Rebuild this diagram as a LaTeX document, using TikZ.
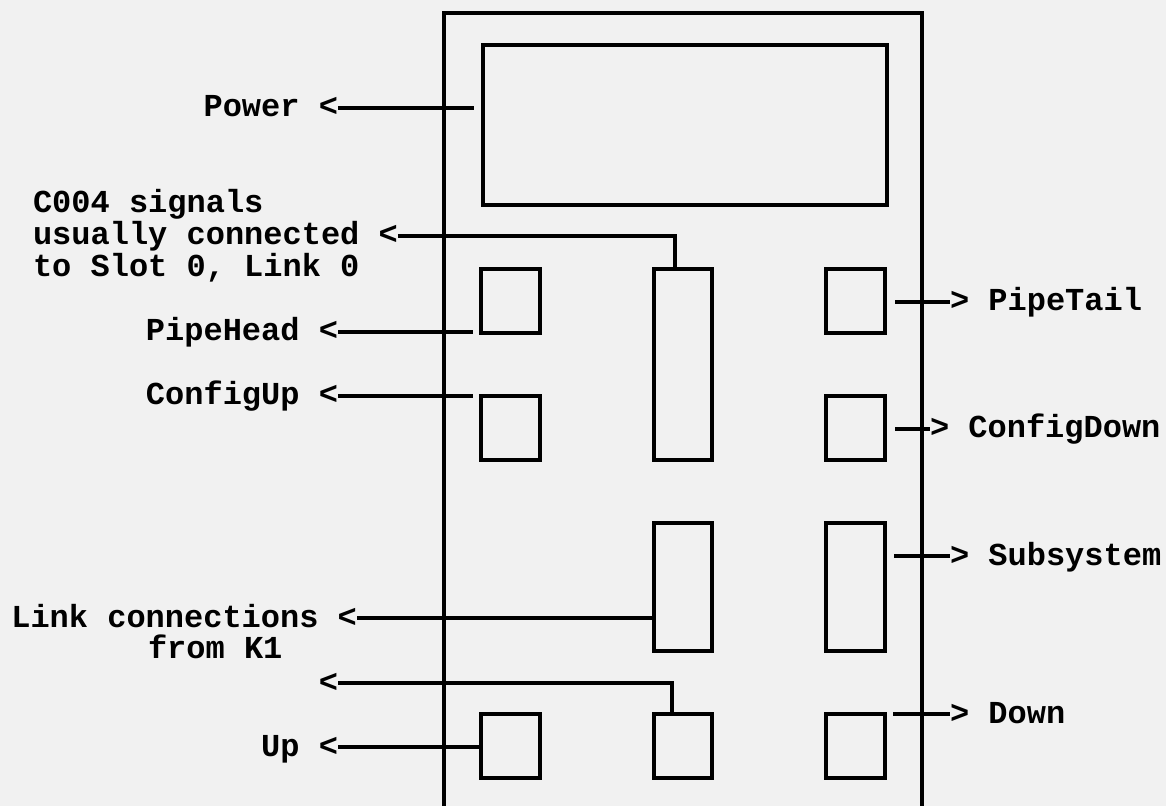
\documentclass[tikz,border=0pt]{standalone}
\usepackage{fontspec}
\newfontfamily\courfont{Liberation Mono}
\definecolor{paper}{RGB}{241,241,241}
\begin{document}
\begin{tikzpicture}[x=0.5pt,y=-0.5pt,
  wire/.style={line width=1.6pt},
  boxnode/.style={draw,line width=1.6pt,inner sep=0pt,outer sep=0pt},
  lbl/.style={inner sep=0pt,outer sep=0pt,font=\courfont\bfseries\fontsize{16}{16}\selectfont,text height=9pt,text depth=0pt}]
\useasboundingbox (0,0) rectangle (1166,806);
\fill[paper] (0,0) rectangle (1166,806);

% outer frame (continues past the bottom edge)
\coordinate (fbl) at (444,840);
\coordinate (ftl) at (444,13);
\coordinate (ftr) at (922,13);
\coordinate (fbr) at (922,840);
\draw[wire] (fbl) -- (ftl) -- (ftr) -- (fbr);

% boxes
\node[boxnode,minimum width=202pt,minimum height=80pt] (powbox) at (685,125) {};
\node[boxnode,minimum width=29.5pt,minimum height=32pt] (phead) at (510.5,301) {};
\node[boxnode,minimum width=29.5pt,minimum height=32pt] (cup) at (510.5,428) {};
\node[boxnode,minimum width=29.5pt,minimum height=32pt] (upbox) at (510.5,746) {};
\node[boxnode,minimum width=29pt,minimum height=95.5pt] (mid1) at (683,364.5) {};
\node[boxnode,minimum width=29pt,minimum height=64pt] (mid2) at (683,587) {};
\node[boxnode,minimum width=29pt,minimum height=32pt] (mid3) at (683,746) {};
\node[boxnode,minimum width=29.5pt,minimum height=32pt] (ptail) at (855.5,301) {};
\node[boxnode,minimum width=29.5pt,minimum height=32pt] (cdown) at (855.5,428) {};
\node[boxnode,minimum width=29.5pt,minimum height=64pt] (subs) at (855.5,587) {};
\node[boxnode,minimum width=29.5pt,minimum height=32pt] (down) at (855.5,746) {};

% left labels
\node[lbl,anchor=east] (lpow) at (338,108) {Power <};
\node[lbl,anchor=west] (c1) at (33,204) {C004 signals};
\node[lbl,anchor=west] (c2) at (33,236) {usually connected <};
\node[lbl,anchor=west] (c3) at (33,268) {to Slot 0, Link 0};
\node[lbl,anchor=east] (lph) at (338,332) {PipeHead <};
\node[lbl,anchor=east] (lcu) at (338,396) {ConfigUp <};
\node[lbl,anchor=east] (llk) at (357,618) {Link connections <};
\node[lbl,anchor=west] (lk2) at (148,649) {from K1};
\node[lbl,anchor=east] (lsl) at (338,683) {<};
\node[lbl,anchor=east] (lup) at (338,747) {Up <};

% right labels
\node[lbl,anchor=west] (rpt) at (950,302) {> PipeTail};
\node[lbl,anchor=west] (rcd) at (930,429) {> ConfigDown};
\node[lbl,anchor=west] (rss) at (950,556) {> Subsystem};
\node[lbl,anchor=west] (rdn) at (950,714) {> Down};

% free ends
\coordinate (powend) at (474,108);
\coordinate (phend) at (473,332);
\coordinate (cuend) at (473,396);
\coordinate (ptst) at (895,302);
\coordinate (cdst) at (895,429);
\coordinate (ssst) at (894,556);
\coordinate (dnst) at (893,714);

% connectors
\draw[wire] (lpow.east) -- (powend);
\draw[wire] (c2.east) -| ([xshift=-4pt]mid1.north);
\draw[wire] (lph.east) -- (phend);
\draw[wire] (lcu.east) -- (cuend);
\draw[wire] (llk.east) -- (llk.east -| mid2.west);
\draw[wire] (lsl.east) -| ([xshift=-5.5pt]mid3.north);
\draw[wire] (lup.east) -- (lup.east -| upbox.west);
\draw[wire] (ptst) -- (rpt.west);
\draw[wire] (cdst) -- (rcd.west);
\draw[wire] (ssst) -- (rss.west);
\draw[wire] (dnst) -- (rdn.west);
\end{tikzpicture}
\end{document}
